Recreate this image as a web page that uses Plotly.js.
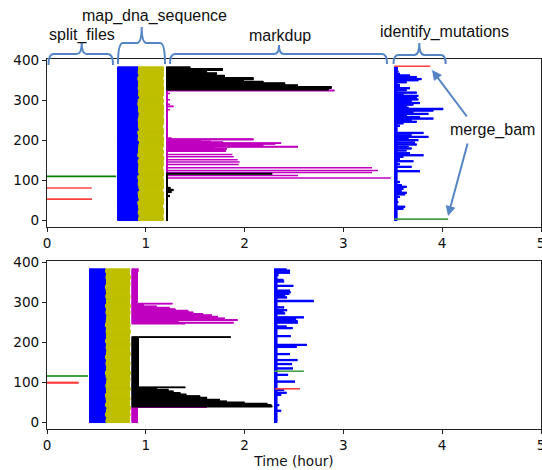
<!DOCTYPE html>
<html><head><meta charset="utf-8">
<script src="https://cdn.plot.ly/plotly-3.0.1.min.js"></script>
<style>html,body{margin:0;padding:0;background:#fff}#chart{width:542px;height:470px}</style>
</head><body><div id="chart"></div>
<script>
// ---------------- DATA ----------------
const TASKS = 385;                 // task index 0..384 on the y axis
const xTicks = [0, 1, 2, 3, 4, 5];
const yTicks = [0, 100, 200, 300, 400];
const stageLabels = ['split_files', 'map_dna_sequence', 'markdup', 'identify_mutations', 'merge_bam'];
const xTitle = 'Time (hour)';

// ---- top run ----
const topSplitY = [110, 81, 53];
const topSplitEnd = [0.70, 0.452, 0.455];
const topSplitColor = ['green', 'red', 'red'];

const topMapStart = 0.712;
// map stage boundary (blue -> yellow) and end, per block of 8 tasks, bottom to top
const topMapBlueEnd = [0.925,0.93,0.92,0.928,0.922,0.918,0.93,0.925,0.92,0.935,0.928,0.92,0.925,0.918,0.93,0.922,0.925,0.928,0.92,0.93,0.918,0.925,0.922,0.928,0.935,0.92,0.925,0.918,0.93,0.922,0.925,0.92,0.928,0.93,0.922,0.925,0.918,0.92,0.935,0.925,0.928,0.92,0.922,0.925,0.918,0.928,0.92,0.925,0.922];
const topMapYellowEnd = [1.18,1.175,1.182,1.178,1.17,1.18,1.185,1.176,1.18,1.172,1.182,1.178,1.18,1.175,1.183,1.178,1.17,1.18,1.178,1.185,1.175,1.18,1.172,1.18,1.178,1.182,1.175,1.18,1.178,1.17,1.18,1.182,1.176,1.18,1.178,1.184,1.175,1.18,1.172,1.18,1.178,1.182,1.176,1.18,1.175,1.18,1.178,1.182,1.18];

const topMarkdupStart = 1.207;
const topMarkdupDefault = 1.225;
const topMarkdupColorRuns = [[0, 118, 'black'], [119, 326, 'magenta'], [327, 384, 'black']];
// [fromTask, toTask, end, optional colour]
const topMarkdupRuns = [
  [60,62,1.245],[70,72,1.26],[75,77,1.28],[80,82,1.25],
  [106,106,3.48,'magenta'],[112,112,2.54,'magenta'],[116,117,2.28,'black'],
  [120,120,3.29],[125,125,3.35],[132,132,3.29],[140,140,1.94],[146,146,1.95],
  [152,152,1.93],[159,159,1.89],[165,165,1.876],
  [173,177,1.81],[178,180,1.82],[181,183,1.70],[184,185,2.54],[186,187,1.75],
  [188,190,2.19],[191,192,2.31],[193,194,2.37],[195,196,1.78],[197,198,1.66],
  [199,201,1.56],[202,204,2.09],[205,206,1.26],
  [277,277,1.245],[285,286,1.28],[291,291,1.245],[302,302,1.245],[318,318,1.245],
  [325,326,2.91,'magenta'],[327,330,2.85],[331,335,2.88],[336,339,2.54],[340,344,2.41],
  [345,348,2.19],[349,352,1.99],[353,357,2.09],[358,363,1.80],[364,369,1.72],
  [370,375,1.62],[376,380,1.78],[381,384,1.45]
];

const topIdentifyStart = 3.515;
const topIdentifyDefault = 3.545;
const topIdentifyRuns = [
  [379,384,3.55],[372,374,3.556],[366,368,3.573],[362,364,3.674],[358,360,3.742],
  [353,355,3.79],[350,351,3.758],[345,347,3.64],[339,340,3.573],[334,336,3.573],
  [330,332,3.674],[325,327,3.64],[319,321,3.742],[314,316,3.607],[311,313,3.758],
  [306,308,3.742],[302,304,3.758],[298,300,3.69],[293,295,3.775],[289,291,3.708],
  [285,287,3.64],[282,283,3.66],[278,280,4.01],[274,276,3.91],[270,272,3.708],
  [266,268,3.86],[262,263,3.64],[258,260,3.775],[254,256,3.91],[250,252,3.69],
  [246,248,3.742],[242,244,3.607],[236,238,3.573],[218,220,3.81],[213,214,3.69],
  [208,210,3.86],[204,205,3.66],[200,202,3.758],[194,196,3.725],[189,191,3.742],
  [184,185,3.66],[179,181,3.69],[174,175,3.64],[167,169,3.674],[162,164,3.81],
  [158,159,3.607],[153,154,3.573],[147,149,3.708],[140,141,3.573],[133,135,3.69],
  [122,124,3.775],[95,97,3.573],[87,89,3.59],[83,85,3.64],[78,80,3.607],
  [73,74,3.59],[68,70,3.64],[64,66,3.625],[58,59,3.573],[45,46,3.556],
  [33,35,3.625],[28,30,3.607]
];
const topMergeY = [386, 3];
const topMergeStart = [3.515, 3.515];
const topMergeEnd = [3.88, 4.06];
const topMergeColor = ['red', 'lightgreen'];

// ---- bottom run ----
const botSplitY = [116, 100, 98.5];
const botSplitEnd = [0.415, 0.318, 0.322];
const botSplitColor = ['green', 'red', 'red'];

const botMapStart = 0.427;
const botMapBlueEnd = [0.595,0.6,0.59,0.598,0.605,0.592,0.6,0.596,0.59,0.602,0.598,0.594,0.6,0.605,0.596,0.59,0.598,0.602,0.595,0.6,0.59,0.598,0.604,0.596,0.6,0.592,0.598,0.602,0.596,0.6,0.59,0.596,0.6,0.604,0.595,0.598,0.592,0.6,0.598,0.594,0.6,0.596,0.59,0.598,0.6,0.595,0.598,0.592,0.596];
const botMapYellowEnd = [0.84,0.836,0.842,0.838,0.845,0.84,0.835,0.842,0.84,0.838,0.844,0.84,0.836,0.842,0.84,0.845,0.838,0.84,0.842,0.836,0.84,0.844,0.838,0.84,0.842,0.836,0.84,0.838,0.845,0.84,0.842,0.838,0.84,0.836,0.842,0.84,0.844,0.838,0.84,0.842,0.836,0.84,0.838,0.842,0.84,0.845,0.838,0.84,0.842];

const botMarkdupStart = 0.857;
const botMarkdupDefault = 0.92;
const botMarkdupColorRuns = [[0, 38, 'magenta'], [39, 215, 'black'], [247, 384, 'magenta']];
const botMarkdupRuns = [
  [38,38,1.62],[39,41,2.28],[42,44,2.27],[45,47,2.23],[48,50,2.0],[51,53,1.82],
  [54,57,1.75],[58,62,1.62],[63,66,1.55],[67,70,1.41],[71,74,1.35],[75,78,1.28],
  [79,82,1.23],[83,86,1.11],[87,88,1.40],[89,212,0.93],[213,214,1.86],
  [215,246,null],
  [247,248,1.40],[249,250,1.89],[251,255,1.33],[256,257,1.93],[258,261,1.80],
  [262,265,1.73],[266,269,1.67],[270,272,1.58],[273,276,1.48],[277,280,1.43],
  [281,284,1.30],[285,288,1.24],[289,291,1.11],[292,296,0.98],[297,298,1.27],
  [378,384,0.925]
];

const botIdentifyStart = 2.298;
const botIdentifyDefault = 2.33;
const botIdentifyRuns = [
  [383,384,2.425],[379,381,2.46],[374,376,2.459],[368,370,2.342],[356,358,2.392],
  [352,354,2.40],[341,343,2.493],[329,331,2.459],[325,327,2.466],[321,323,2.452],
  [316,318,2.41],[312,314,2.43],[303,305,2.70],[287,289,2.40],[280,282,2.43],
  [276,278,2.392],[272,274,2.41],[262,264,2.60],[258,260,2.52],[253,255,2.535],
  [249,251,2.54],[239,241,2.425],[235,237,2.486],[215,217,2.466],[193,195,2.63],
  [188,190,2.527],[170,172,2.459],[155,157,2.535],[145,147,2.48],[134,136,2.49],
  [118,120,2.44],[101,103,2.51],[80,82,2.40],[73,75,2.425],[68,70,2.37],
  [42,44,2.35],[28,30,2.37]
];
const botMergeY = [128, 84];
const botMergeStart = [2.30, 2.31];
const botMergeEnd = [2.60, 2.56];
const botMergeColor = ['lightgreen', 'red'];

// ---------------- STYLE ----------------
const COLORS = {
  blue: '#0000ff', yellow: '#bfbf00', black: '#000000', magenta: '#bf00bf',
  red: '#ff4040', green: '#007f00', lightgreen: '#45a045'
};
const BRACE = '#5585c5';
const LW = 1.5;

// ---------------- HELPERS ----------------
function fromRuns(def, runs) {
  const a = new Array(TASKS).fill(def);
  runs.forEach(r => { for (let i = r[0]; i <= r[1] && i < TASKS; i++) a[i] = r[2]; });
  return a;
}
function colorFromRuns(colorRuns, runs) {
  const a = new Array(TASKS).fill(null);
  colorRuns.forEach(r => { for (let i = r[0]; i <= r[1] && i < TASKS; i++) a[i] = r[2]; });
  runs.forEach(r => { if (r[3]) for (let i = r[0]; i <= r[1]; i++) a[i] = r[3]; });
  return a;
}
function fromBlocks(vals, size) {
  const a = [];
  for (let i = 0; i < TASKS; i++) a.push(vals[Math.min(Math.floor(i / size), vals.length - 1)]);
  return a;
}
function segTrace(ys, starts, ends, color, ax, width) {
  const x = [], y = [];
  for (let k = 0; k < ys.length; k++) {
    if (ends[k] == null) continue;
    x.push(starts[k], ends[k], null); y.push(ys[k], ys[k], null);
  }
  return { type: 'scatter', mode: 'lines', x, y, xaxis: ax[0], yaxis: ax[1],
    line: { color: COLORS[color], width: width || LW }, hoverinfo: 'skip', showlegend: false };
}
const idx = Array.from({ length: TASKS }, (_, i) => i);
const constArr = v => new Array(TASKS).fill(v);

function panelTraces(ax, P) {
  const t = [];
  const blueEnd = fromBlocks(P.mapBlueEnd, 8);
  const yellowEnd = fromBlocks(P.mapYellowEnd, 8);
  t.push(segTrace(idx, constArr(P.mapStart), blueEnd, 'blue', ax));
  t.push(segTrace(idx, blueEnd, yellowEnd, 'yellow', ax));
  const mdEnd = fromRuns(P.mdDefault, P.mdRuns);
  const mdCol = colorFromRuns(P.mdColorRuns, P.mdRuns);
  ['magenta', 'black'].forEach(c => {
    const e = mdEnd.map((v, i) => (mdCol[i] === c ? v : null));
    t.push(segTrace(idx, constArr(P.mdStart), e, c, ax));
  });
  t.push(segTrace(idx, constArr(P.idStart), fromRuns(P.idDefault, P.idRuns), 'blue', ax));
  P.splitY.forEach((yv, k) => t.push(segTrace([yv], [0], [P.splitEnd[k]], P.splitColor[k], ax, 1.6)));
  P.mergeY.forEach((yv, k) => t.push(segTrace([yv], [P.mergeStart[k]], [P.mergeEnd[k]], P.mergeColor[k], ax, 1.6)));
  return t;
}

const traces = [].concat(
  panelTraces(['x2', 'y2'], {
    mapStart: topMapStart, mapBlueEnd: topMapBlueEnd, mapYellowEnd: topMapYellowEnd,
    mdStart: topMarkdupStart, mdDefault: topMarkdupDefault, mdRuns: topMarkdupRuns, mdColorRuns: topMarkdupColorRuns,
    idStart: topIdentifyStart, idDefault: topIdentifyDefault, idRuns: topIdentifyRuns,
    splitY: topSplitY, splitEnd: topSplitEnd, splitColor: topSplitColor,
    mergeY: topMergeY, mergeStart: topMergeStart, mergeEnd: topMergeEnd, mergeColor: topMergeColor
  }),
  panelTraces(['x', 'y'], {
    mapStart: botMapStart, mapBlueEnd: botMapBlueEnd, mapYellowEnd: botMapYellowEnd,
    mdStart: botMarkdupStart, mdDefault: botMarkdupDefault, mdRuns: botMarkdupRuns, mdColorRuns: botMarkdupColorRuns,
    idStart: botIdentifyStart, idDefault: botIdentifyDefault, idRuns: botIdentifyRuns,
    splitY: botSplitY, splitEnd: botSplitEnd, splitColor: botSplitColor,
    mergeY: botMergeY, mergeStart: botMergeStart, mergeEnd: botMergeEnd, mergeColor: botMergeColor
  })
);

// pixel -> paper conversion (plot area 47..541 x 59..429)
const L = 47, R = 541, T = 59, B = 429;
const px = v => (v - L) / (R - L);
const py = v => (B - v) / (B - T);
function brace(x1, x2, xc, yEnd, yH, yTop, r) {
  const P = (a, b) => px(a).toFixed(5) + ',' + py(b).toFixed(5);
  return 'M' + P(x1, yEnd) + ' Q' + P(x1, yH) + ' ' + P(x1 + r, yH) +
    ' L' + P(xc - r, yH) + ' Q' + P(xc, yH) + ' ' + P(xc, yTop) +
    ' M' + P(xc, yTop) + ' Q' + P(xc, yH) + ' ' + P(xc + r, yH) +
    ' L' + P(x2 - r, yH) + ' Q' + P(x2, yH) + ' ' + P(x2, yEnd);
}
const shapes = [
  brace(48.5, 113, 81.7, 65, 54, 43, 5),
  brace(118, 165, 141.7, 64, 43, 27, 5),
  brace(170, 387, 279, 64, 54, 45, 5),
  brace(393.5, 445.7, 419.3, 64, 55, 43, 5)
].map(p => ({ type: 'path', xref: 'paper', yref: 'paper', path: p, line: { color: BRACE, width: 2 } }));

const labelFont = { family: 'Liberation Sans, Arial, sans-serif', size: 16, color: '#111' };
const labelPos = [[82, 35], [154, 16], [280, 36], [444, 32], [492, 130]];
const annotations = stageLabels.map((s, k) => ({
  xref: 'paper', yref: 'paper', x: px(labelPos[k][0]), y: py(labelPos[k][1]),
  xanchor: 'center', yanchor: 'middle', text: s, showarrow: false, font: labelFont
}));
annotations.push(
  { xref: 'paper', yref: 'paper', x: px(432), y: py(70), ax: 36, ay: 48, text: '', showarrow: true,
    arrowhead: 2, arrowsize: 1, arrowwidth: 2, arrowcolor: BRACE },
  { xref: 'paper', yref: 'paper', x: px(448), y: py(216), ax: 20, ay: -74, text: '', showarrow: true,
    arrowhead: 2, arrowsize: 1, arrowwidth: 2, arrowcolor: BRACE }
);

const tickFont = { family: 'DejaVu Sans, sans-serif', size: 13.6, color: '#111' };
const xBase = {
  range: [0, 5], tickvals: xTicks, ticktext: xTicks.map(String), ticks: 'outside', ticklen: 4,
  tickwidth: 1, tickcolor: '#222', showline: true, mirror: true, linecolor: '#222', linewidth: 1,
  showgrid: false, zeroline: false, tickfont: tickFont, fixedrange: true, ticklabeloverflow: 'allow'
};
const yBase = {
  range: [-16.8, 404.3], tickvals: yTicks, ticktext: yTicks.map(String), ticks: 'outside', ticklen: 4,
  tickwidth: 1, tickcolor: '#222', showline: true, mirror: true, linecolor: '#222', linewidth: 1,
  showgrid: false, zeroline: false, tickfont: tickFont, fixedrange: true
};

const layout = {
  width: 542, height: 470, margin: { l: L, r: 542 - R, t: T, b: 470 - B },
  paper_bgcolor: '#fff', plot_bgcolor: '#fff', showlegend: false,
  xaxis: Object.assign({}, xBase, { domain: [0, 1], anchor: 'y',
    title: { text: xTitle, font: tickFont, standoff: 4 } }),
  yaxis: Object.assign({}, yBase, { domain: [0, 168 / 370], anchor: 'x' }),
  xaxis2: Object.assign({}, xBase, { domain: [0, 1], anchor: 'y2' }),
  yaxis2: Object.assign({}, yBase, { domain: [202 / 370, 1], anchor: 'x2' }),
  shapes, annotations
};

Plotly.newPlot('chart', traces, layout, { staticPlot: true, displayModeBar: false });
</script>
</body></html>
